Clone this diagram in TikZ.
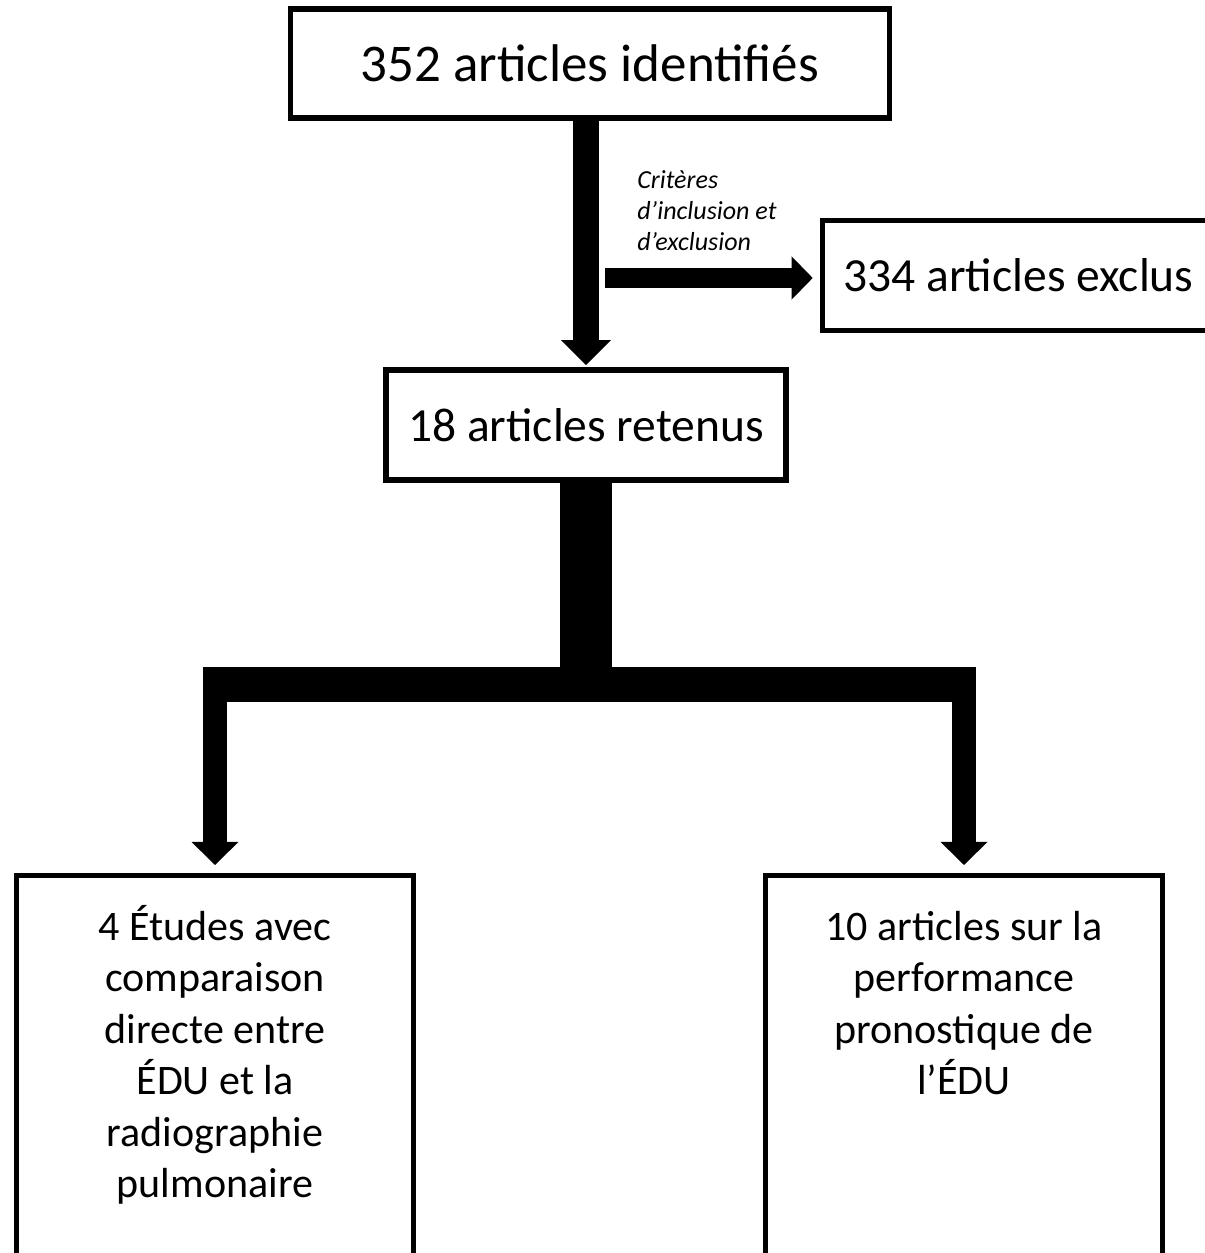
\documentclass[tikz,border=0pt]{standalone}
\usepackage{fontspec}
\setmainfont{Carlito}
\usepackage{tikz}
\usetikzlibrary{arrows.meta, calc}

\begin{document}
\begin{tikzpicture}[
        x=0.025cm, y=-0.025cm,
        box/.style={draw, line width=3.9pt, inner sep=0pt, align=center},
        title font/.style={font=\fontsize{37.7}{45}\selectfont},
        count font/.style={font=\fontsize{33.8}{41}\selectfont},
        result/.style={box, align=flush center, anchor=north, text width=9.925cm, inner ysep=21pt, text height=25pt, text depth=207pt, font=\fontsize{29.9}{36.6}\selectfont},
        criteria/.style={font=\itshape\fontsize{18.5}{22}\selectfont, align=left, inner sep=0pt, anchor=north west},
        flow down/.style={line width=18.5pt, -{Triangle[width=35.6pt, length=17.8pt, line width=0pt]}, shorten >=1.5pt},
        flow right/.style={line width=14.2pt, -{Triangle[width=30.6pt, length=14.9pt, line width=0pt]}, shorten >=5pt},
        trunk/.style={line width=36.3pt},
        bar/.style={line width=24.9pt},
        branch/.style={line width=16.4pt, -{Triangle[width=33.4pt, length=16.4pt, line width=0pt]}, shorten >=5.7pt},
    ]

    \useasboundingbox (0,0) rectangle (1204,1253);

    % boxes
    \node[box, title font, minimum width=14.975cm, minimum height=2.725cm] (ident) at (590,63.5) {352 articles identifiés};
    \node[box, count font, minimum width=9.8cm, minimum height=2.75cm] (exclus) at (1018.5,275.5) {334 articles exclus};
    \node[box, count font, minimum width=10cm, minimum height=2.75cm] (retenus) at (586,425) {18 articles retenus};
    \node[result] (etudes) at (215,873) {4 Études avec\\comparaison\\directe entre\\ÉDU et la\\radiographie\\pulmonaire};
    \node[result] (prono) at (964,873) {10 articles sur la\\performance\\pronostique de\\l’ÉDU};

    \node[criteria] (criteres) at (637,170) {Critères\\d’inclusion et\\d’exclusion};

    % arrows
    \draw[flow down] (ident.south -| retenus.north) -- (retenus.north);
    \coordinate (critstart) at (605,278);
    \draw[flow right] (critstart) -- (critstart -| exclus.west);

    \coordinate (fork) at (586,684.5);
    \coordinate (forkL) at (etudes.north |- fork);
    \coordinate (forkR) at (prono.north |- fork);
    \draw[trunk] (retenus.south) -- (fork);
    \draw[bar] ($(forkL)+(-11.6,0)$) -- ($(forkR)+(11.6,0)$);
    \draw[branch] (forkL) -- (etudes.north);
    \draw[branch] (forkR) -- (prono.north);

\end{tikzpicture}
\end{document}
